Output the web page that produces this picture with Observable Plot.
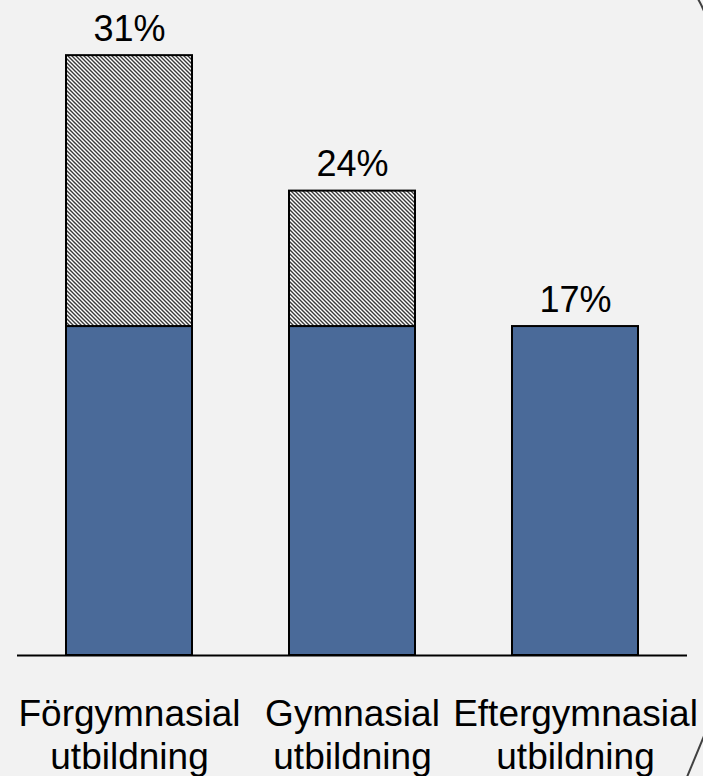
<!DOCTYPE html>
<html>
<head>
<meta charset="utf-8">
<script src="https://cdn.jsdelivr.net/npm/d3@7"></script>
<script src="https://cdn.jsdelivr.net/npm/@observablehq/plot@0.6"></script>
<style>
  html, body { margin: 0; padding: 0; background: #f2f2f2; }
  #wrap { position: relative; width: 703px; height: 776px; overflow: hidden; }
  #deco { position: absolute; left: 0; top: 0; pointer-events: none; }
</style>
</head>
<body>
<div id="wrap"></div>
<script>
// Data
const categories = ["Förgymnasial\nutbildning", "Gymnasial\nutbildning", "Eftergymnasial\nutbildning"];
const baseValues = [17, 17, 17];
const extraValues = [14, 7, 0];
const totalLabels = ["31%", "24%", "17%"];

const rows = [];
categories.forEach((c, i) => {
  rows.push({category: c, part: "base", value: baseValues[i]});
  rows.push({category: c, part: "extra", value: extraValues[i]});
});
const totals = categories.map((c, i) => ({category: c, total: baseValues[i] + extraValues[i], label: totalLabels[i]}));

const font = "'Liberation Sans', Arial, Helvetica, sans-serif";

const chart = Plot.plot({
  width: 703,
  height: 776,
  marginTop: 0,
  marginBottom: 121,
  marginLeft: 17,
  marginRight: 16,
  style: {background: "#f2f2f2", fontFamily: font, color: "#000"},
  x: {domain: categories, paddingInner: 0.435, paddingOuter: 0.2175, axis: null},
  y: {domain: [0, 33.85], axis: null},
  marks: [
    Plot.barY(rows.filter(d => d.value > 0), {
      x: "category", y: "value", z: "part",
      order: ["base", "extra"],
      fill: d => d.part === "base" ? "#4a6a99" : "url(#hatch)",
      stroke: "#000", strokeWidth: 2
    }),
    Plot.ruleY([0], {stroke: "#000", strokeWidth: 2}),
    Plot.text(totals, {
      x: "category", y: "total", text: "label",
      lineAnchor: "bottom", dy: -15, fontSize: 36, fill: "#000"
    }),
    Plot.text(categories, {
      x: d => d, y: () => 0, text: d => d,
      lineAnchor: "top", dy: 40, fontSize: 37, lineHeight: 1.16, fill: "#000"
    })
  ]
});

// Hatch pattern definition
const svgNS = "http://www.w3.org/2000/svg";
const defs = document.createElementNS(svgNS, "defs");
defs.innerHTML = `
  <pattern id="hatch" patternUnits="userSpaceOnUse" width="4" height="4">
    <rect width="4" height="4" fill="#ffffff"/>
    <path d="M-1,-1 L5,5 M-1,3 L1,5 M3,-1 L5,1" stroke="#3a3a3a" stroke-width="1.4"/>
  </pattern>`;
chart.insertBefore(defs, chart.firstChild);

document.getElementById("wrap").appendChild(chart);

// Decorative frame corners (outline of surrounding shape)
const deco = document.createElementNS(svgNS, "svg");
deco.setAttribute("id", "deco");
deco.setAttribute("width", 703);
deco.setAttribute("height", 776);
deco.innerHTML = `
  <path d="M698,-1 Q701,4 704,11" fill="none" stroke="#404040" stroke-width="2"/>
  <path d="M687,777 L704,736" fill="none" stroke="#404040" stroke-width="2"/>`;
document.getElementById("wrap").appendChild(deco);
</script>
</body>
</html>
